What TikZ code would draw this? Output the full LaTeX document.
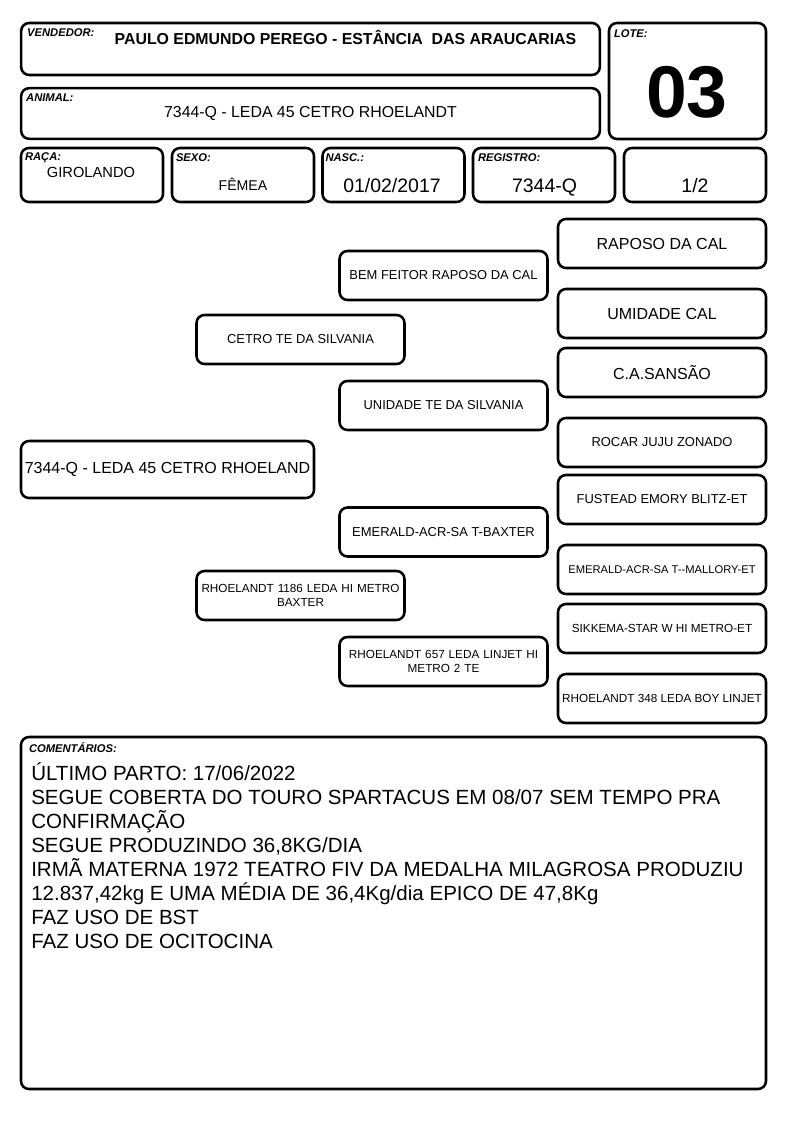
\documentclass[tikz,border=0pt]{standalone}
\usepackage{fontspec}
\setmainfont{Liberation Sans}
\usetikzlibrary{positioning}
\newcommand{\fsz}[1]{\fontsize{#1}{1.2\dimexpr#1pt\relax}\selectfont}
\tikzset{
  card/.style={draw, line width=1.9pt, rounded corners=6pt, inner sep=1pt, align=center},
  tag/.style={font=\fsz{8.4}\bfseries\itshape, anchor=north west, inner sep=0pt},
  big/.style={font=\fsz{12}},
  mid/.style={font=\fsz{9.7}},
  sml/.style={font=\fsz{8.8}},
  anc/.style={card, minimum width=156pt, minimum height=36.75pt},
}
\begin{document}
\begin{tikzpicture}[x=0.75pt,y=-0.75pt]
\useasboundingbox (0,0) rectangle (794,1123);
% cabecalho
\node[card, minimum width=434pt, minimum height=39pt] (vend) at (310.5,49) {};
\node[card, minimum width=434pt, minimum height=38pt] (anim) at (310.5,113.5) {};
\node[card, minimum width=117.75pt, minimum height=87pt] (lote) at (687.5,81) {};
\node[tag] (tvend) at ([shift={(7,7)}]vend.north west) {VENDEDOR:};
\node[font=\fsz{11.9}\bfseries] (nvend) at (345.5,37) {PAULO EDMUNDO PEREGO - ESTÂNCIA\ \ DAS ARAUCARIAS};
\node[tag] (tanim) at ([shift={(6,7)}]anim.north west) {ANIMAL:};
\node[font=\fsz{11.9}] (nanim) at (310.5,113) {7344-Q - LEDA 45 CETRO RHOELANDT};
\node[tag] (tlote) at ([shift={(6,8)}]lote.north west) {LOTE:};
\node[font=\fsz{55}\bfseries] (nlote) at (687,92) {03};
% dados
\foreach \nm/\cx in {raca/92,sexo/243,nasc/393.5,reg/544,frac/695}
  \node[card, minimum width=106.5pt, minimum height=40.5pt] (\nm) at (\cx,175) {};
\node[tag] (traca) at ([shift={(5,6)}]raca.north west) {RAÇA:};
\node[tag] (tsexo) at ([shift={(5,7)}]sexo.north west) {SEXO:};
\node[tag] (tnasc) at ([shift={(4,7)}]nasc.north west) {NASC.:};
\node[tag] (treg) at ([shift={(6,7)}]reg.north west) {REGISTRO:};
\node[font=\fsz{11}] (vraca) at (91,172) {GIROLANDO};
\node[font=\fsz{10.6}] (vsexo) at (243,184) {FÊMEA};
\node[font=\fsz{14.6}] (vnasc) at (392,186) {01/02/2017};
\node[font=\fsz{14.6}, text depth=0pt] (vreg) at (544.5,186) {7344-Q};
\node[font=\fsz{14.6}] (vfrac) at (695,186) {1/2};
% genealogia
\node[card, big, minimum width=219.75pt, minimum height=42.75pt] (leda) at (167.5,469.5) {7344-Q - LEDA 45 CETRO RHOELAND};
\node[anc, mid] (pai) at (300.5,339.5) {CETRO TE DA SILVANIA};
\node[anc, sml, text width=152pt] (mae) at (300.5,595.5) {RHOELANDT 1186 LEDA HI METRO\\BAXTER};
\node[anc, mid] (avp) at (443.5,275.5) {BEM FEITOR RAPOSO DA CAL};
\node[anc, mid] (avop) at (443.5,405.5) {UNIDADE TE DA SILVANIA};
\node[anc, mid] (avm) at (443.5,532) {EMERALD-ACR-SA T-BAXTER};
\node[anc, sml, text width=152pt] (avom) at (443.5,661.5) {RHOELANDT 657 LEDA LINJET HI\\METRO 2 TE};
\node[anc, big] (bis1) at (662,243.5) {RAPOSO DA CAL};
\node[anc, big] (bis2) at (662,313.5) {UMIDADE CAL};
\node[anc, big] (bis3) at (662,372.5) {C.A.SANSÃO};
\node[anc, mid] (bis4) at (662,442.5) {ROCAR JUJU ZONADO};
\node[anc, mid] (bis5) at (662,499.5) {FUSTEAD EMORY BLITZ-ET};
\node[anc, font=\fsz{8.4}] (bis6) at (662,569.5) {EMERALD-ACR-SA T-{}-MALLORY-ET};
\node[anc, font=\fsz{8.8}] (bis7) at (662,628.5) {SIKKEMA-STAR W HI METRO-ET};
\node[anc, sml] (bis8) at (662,698.5) {RHOELANDT 348 LEDA BOY LINJET};
% comentarios
\node[card, minimum width=558.75pt, minimum height=264pt] (coment) at (393.5,913) {};
\node[tag] (tcoment) at ([shift={(9,7)}]coment.north west) {COMENTÁRIOS:};
\node[font=\fontsize{15.4}{18}\selectfont, align=left, anchor=north west, inner sep=0pt] (tcom) at (31,762) {ÚLTIMO PARTO: 17/06/2022\\
SEGUE COBERTA DO TOURO SPARTACUS EM 08/07 SEM TEMPO PRA\\
CONFIRMAÇÃO\\
SEGUE PRODUZINDO 36,8KG/DIA\\
IRMÃ MATERNA 1972 TEATRO FIV DA MEDALHA MILAGROSA PRODUZIU\\
12.837,42kg E UMA MÉDIA DE 36,4Kg/dia EPICO DE 47,8Kg\\
FAZ USO DE BST\\
FAZ USO DE OCITOCINA};
\end{tikzpicture}
\end{document}
